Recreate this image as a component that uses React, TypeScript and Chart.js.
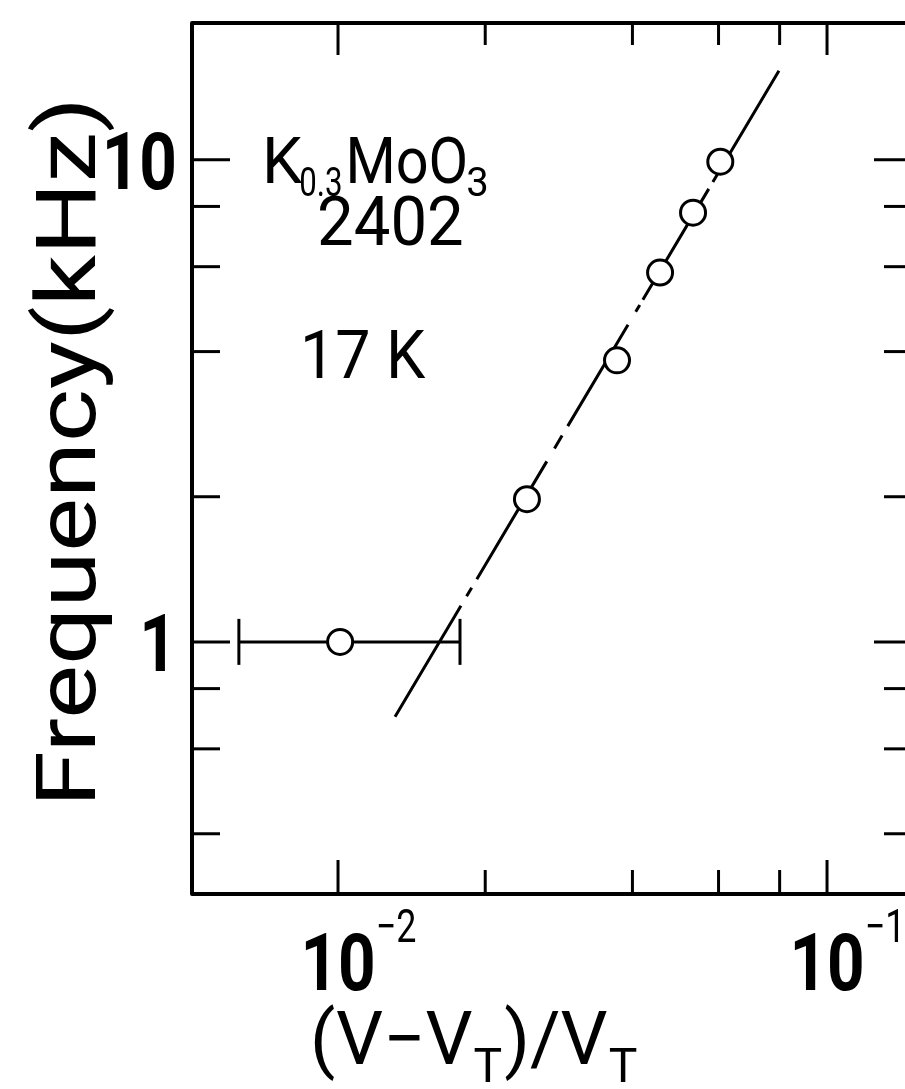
import { useEffect, useRef } from "react";
import { Chart, registerables } from "chart.js";

Chart.register(...registerables);

// Measured sliding frequency against reduced field (V - VT) / VT
const drive = [0.0101, 0.02434, 0.0372, 0.04556, 0.05321, 0.0605];
const frequency = [1.0, 1.977, 3.836, 5.834, 7.767, 9.906];

// Horizontal uncertainty of the lowest-field point
const driveErrLow = [0.00627];
const driveErrHigh = [0.01776];
const driveErrFreq = [1.0];

// Power-law guide line (end points)
const fitDrive = [0.01308, 0.07974];
const fitFrequency = [0.6996, 15.29];

// Axis ranges and ticks
const xLimits = [0.005028, 0.1478];
const yLimits = [0.302, 19.21];
const xMajorTicks = [0.01, 0.1];
const xMajorExponents = ["\u22122", "\u22121"];
const xMinorTicks = [0.02, 0.04, 0.06, 0.08];
const yMajorTicks = [1, 10];
const yMajorLabels = ["1", "10"];
const yMinorTicks = [0.4, 0.6, 0.8, 2, 4, 6, 8];

const FONT = "Roboto, 'DejaVu Sans', sans-serif";

// broken-line pattern of the hand-drawn guide line (px along the line)
const GUIDE_DASH = [129, 11, 10, 10, 137, 15, 15, 11, 118, 15, 8, 6, 129, 8, 140];

function drawText(
  ctx: CanvasRenderingContext2D,
  s: string,
  x: number,
  y: number,
  font: string,
  align: CanvasTextAlign = "left",
  sx = 1
): number {
  ctx.save();
  ctx.font = font;
  ctx.textAlign = align;
  ctx.textBaseline = "alphabetic";
  ctx.translate(x, y);
  ctx.scale(sx, 1);
  ctx.fillText(s, 0, 0);
  const w = ctx.measureText(s).width * sx;
  ctx.restore();
  return w;
}

function measure(ctx: CanvasRenderingContext2D, s: string, font: string) {
  ctx.save();
  ctx.font = font;
  const w = ctx.measureText(s).width;
  ctx.restore();
  return w;
}

const frameAndLabels = {
  id: "frameAndLabels",
  afterDraw(chart: any) {
    const { ctx, chartArea: a, scales } = chart;
    const xs = scales.x;
    const ys = scales.y;
    ctx.save();
    ctx.fillStyle = "#000";
    ctx.strokeStyle = "#000";

    // frame
    ctx.lineWidth = 4;
    ctx.lineJoin = "round";
    ctx.strokeRect(a.left, a.top, a.right - a.left, a.bottom - a.top);

    // inward ticks on all four sides
    ctx.lineWidth = 3;
    ctx.lineCap = "butt";
    const seg = (x1: number, y1: number, x2: number, y2: number) => {
      ctx.beginPath();
      ctx.moveTo(x1, y1);
      ctx.lineTo(x2, y2);
      ctx.stroke();
    };
    xMajorTicks.forEach((v) => {
      const p = xs.getPixelForValue(v);
      seg(p, a.top, p, a.top + 32);
      seg(p, a.bottom, p, a.bottom - 34);
    });
    xMinorTicks.forEach((v) => {
      const p = xs.getPixelForValue(v);
      seg(p, a.top, p, a.top + 22);
      seg(p, a.bottom, p, a.bottom - 24);
    });
    yMajorTicks.forEach((v) => {
      const p = ys.getPixelForValue(v);
      seg(a.left, p, a.left + 38, p);
      seg(a.right, p, a.right - 36, p);
    });
    yMinorTicks.forEach((v) => {
      const p = ys.getPixelForValue(v);
      seg(a.left, p, a.left + 28, p);
      seg(a.right, p, a.right - 26, p);
    });

    // y tick labels
    const bigFont = `700 80px ${FONT}`;
    const bigScale = 0.82;
    yMajorTicks.forEach((v, i) => {
      const p = ys.getPixelForValue(v);
      drawText(ctx, yMajorLabels[i], a.left - 15, p + 29, bigFont, "right", bigScale);
    });

    // x tick labels: 10 with exponent
    const supFont = `400 46px ${FONT}`;
    xMajorTicks.forEach((v, i) => {
      const p = xs.getPixelForValue(v);
      const w = measure(ctx, "10", bigFont) * bigScale;
      drawText(ctx, "10", p, a.bottom + 96, bigFont, "center", bigScale);
      drawText(ctx, xMajorExponents[i], p + w / 2, a.bottom + 48, supFont, "left", 0.78);
    });

    // y axis title
    const titleFont = `400 84px ${FONT}`;
    const yTitle = "Frequency(kHz)";
    const yTitleW = measure(ctx, yTitle, titleFont);
    ctx.save();
    ctx.translate(95, 452);
    ctx.rotate(-Math.PI / 2);
    drawText(ctx, yTitle, 0, 0, titleFont, "center", 710 / yTitleW);
    ctx.restore();

    // x axis title: (V−V_T)/V_T
    const xtFont = `400 74px ${FONT}`;
    const subFont = `400 48px ${FONT}`;
    let x = 310;
    const base = 1064;
    x += drawText(ctx, "(V\u2212V", x, base, xtFont);
    x += drawText(ctx, "T", x + 1, base + 18, subFont) + 3;
    x += drawText(ctx, ")/V", x, base, xtFont);
    drawText(ctx, "T", x + 1, base + 18, subFont);

    // sample annotations
    const annFont = `400 64px ${FONT}`;
    const annSub = `400 40px ${FONT}`;
    let ax = 262;
    ax += drawText(ctx, "K", ax, 183, annFont);
    ax += drawText(ctx, "0.3", ax - 3, 196, annSub, "left", 0.78);
    ax += drawText(ctx, "MoO", ax, 183, annFont, "left", 0.9);
    drawText(ctx, "3", ax - 2, 196, annSub);
    drawText(ctx, "2402", 317, 245, `400 68px ${FONT}`, "left", 0.96);
    drawText(ctx, "17 K", 300, 378, `400 66px ${FONT}`, "left", 0.95);

    ctx.restore();
  },
};

export default function App() {
  const ref = useRef<HTMLCanvasElement | null>(null);

  useEffect(() => {
    if (!ref.current) return;
    const points = drive.map((x, i) => ({ x, y: frequency[i] }));
    const guide = fitDrive.map((x, i) => ({ x, y: fitFrequency[i] }));
    const errBar = [
      { x: driveErrLow[0], y: driveErrFreq[0] },
      { x: driveErrHigh[0], y: driveErrFreq[0] },
    ];

    const chart = new Chart(ref.current, {
      type: "scatter",
      data: {
        datasets: [
          {
            label: "data",
            data: points,
            showLine: false,
            pointStyle: "circle",
            pointRadius: 12.5,
            pointHoverRadius: 12.5,
            pointBorderWidth: 3,
            pointBackgroundColor: "#fff",
            pointBorderColor: "#000",
            order: 0,
          },
          {
            label: "guide",
            type: "line",
            data: guide,
            borderColor: "#000",
            borderWidth: 3,
            borderDash: GUIDE_DASH,
            pointRadius: 0,
            fill: false,
            tension: 0,
            order: 1,
          },
          {
            label: "error",
            type: "line",
            data: errBar,
            borderColor: "#000",
            borderWidth: 3,
            pointStyle: "line",
            rotation: 90,
            pointRadius: 23,
            pointBorderWidth: 3,
            pointBorderColor: "#000",
            fill: false,
            order: 2,
          },
        ],
      },
      options: {
        responsive: false,
        animation: false,
        events: [],
        layout: {
          autoPadding: false,
          padding: { left: 192, top: 23, right: 20, bottom: 195 },
        },
        plugins: {
          legend: { display: false },
          tooltip: { enabled: false },
          title: { display: false },
        },
        scales: {
          x: { type: "logarithmic", display: false, min: xLimits[0], max: xLimits[1] },
          y: { type: "logarithmic", display: false, min: yLimits[0], max: yLimits[1] },
        },
      },
      plugins: [frameAndLabels],
    });
    return () => chart.destroy();
  }, []);

  return (
    <div
      style={{
        position: "fixed",
        left: 0,
        top: 0,
        width: 905,
        height: 1089,
        overflow: "hidden",
        background: "#fff",
      }}
    >
      <canvas ref={ref} width={930} height={1089} style={{ width: 930, height: 1089, display: "block" }} />
    </div>
  );
}
